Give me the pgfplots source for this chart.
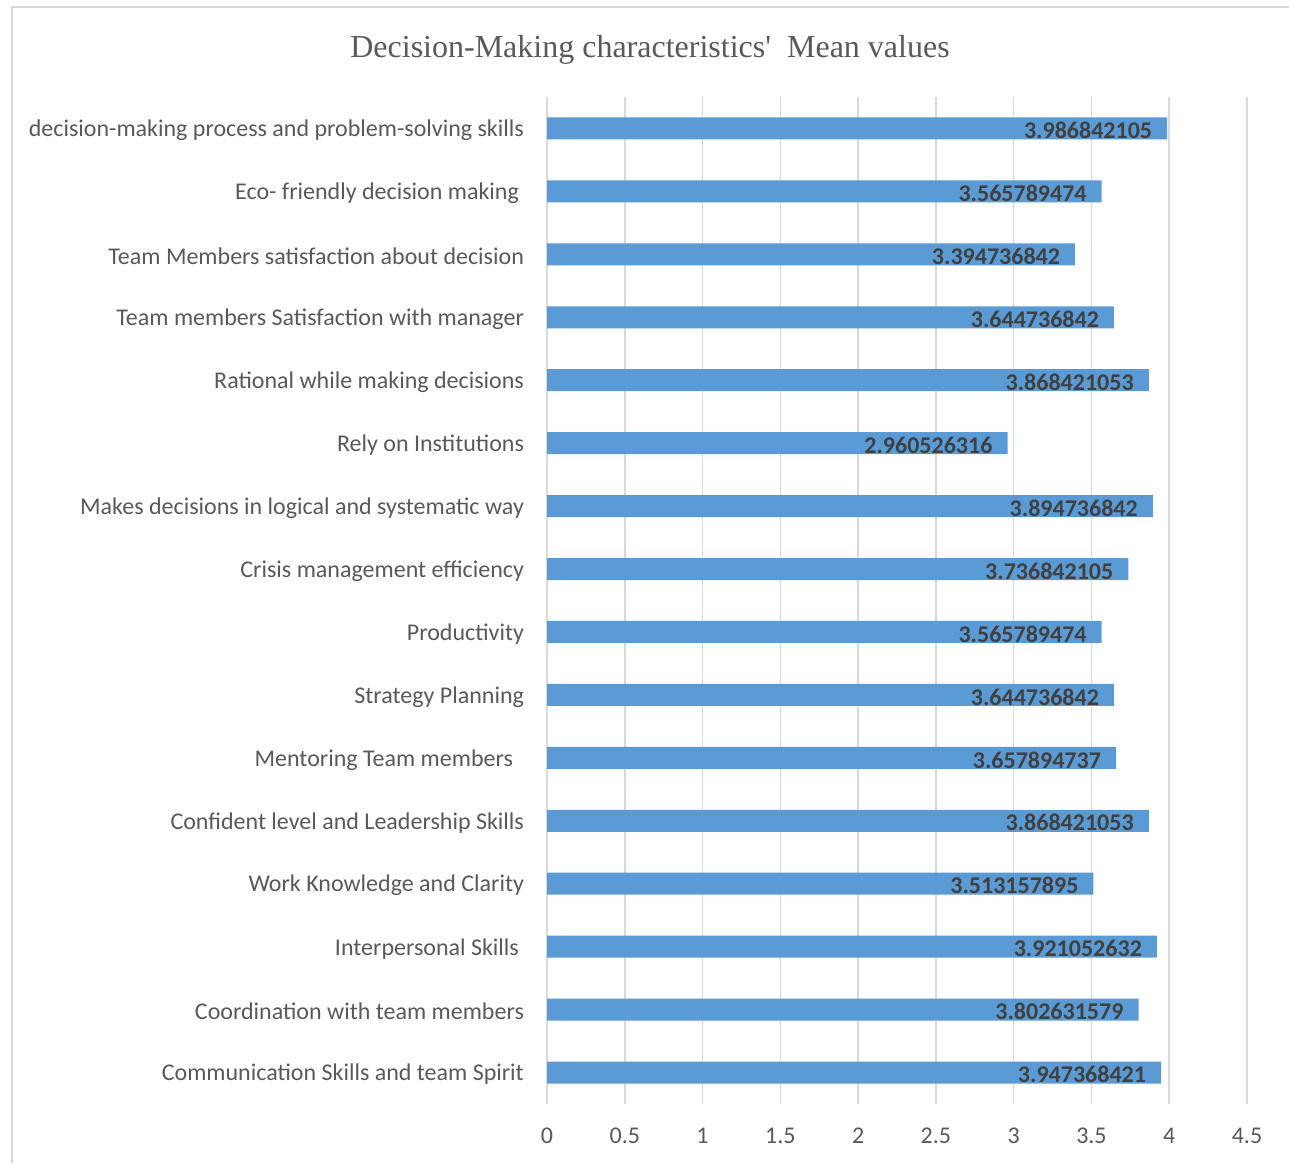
\documentclass[border=0pt]{standalone}
\usepackage{pgfplots}
\pgfplotsset{compat=1.18}
\usepackage{fontspec}
\setmainfont{Carlito}
\newfontfamily\titlefont[Ligatures=TeXOff]{Liberation Serif}
\definecolor{barblue}{HTML}{5B9BD5}
\definecolor{gridgray}{HTML}{D9D9D9}
\definecolor{labgray}{HTML}{595959}
\definecolor{valgray}{HTML}{404040}
\begin{document}
\begin{tikzpicture}[x=1pt,y=1pt]
\useasboundingbox (0,0) rectangle (644.5,581.5);
\draw[gridgray, line width=0.75pt] (6,0) -- (6,578) -- (650,578);
\node[font=\titlefont\fontsize{16}{19}\selectfont, text=labgray] at (325,556.5) {Decision-Making characteristics'\ \ Mean values};
\begin{axis}[
  at={(273.5pt,29.5pt)}, anchor=south west,
  scale only axis, width=350pt, height=503.5pt,
  xmin=0, xmax=4.5, ymin=-0.5, ymax=15.5,
  xbar, bar width=11pt,
  xtick={0,0.5,1,1.5,2,2.5,3,3.5,4,4.5},
  ytick={0,...,15},
  yticklabels={
    Communication Skills and team Spirit,
    Coordination with team members,
    Interpersonal Skills\hspace*{2.5pt},
    Work Knowledge and Clarity,
    Confident level and Leadership Skills,
    Mentoring Team members\hspace*{5.5pt},
    Strategy Planning,
    Productivity,
    Crisis management efficiency,
    Makes decisions in logical and systematic way,
    Rely on Institutions,
    Rational while making decisions,
    Team members Satisfaction with manager,
    Team Members satisfaction about decision,
    Eco- friendly decision making\hspace*{2.5pt},
    decision-making process and problem-solving skills},
  xmajorgrids, grid style={gridgray, line width=0.75pt},
  axis line style={draw=none}, major tick length=0pt,
  /pgf/number format/assume math mode=true,
  tick label style={font=\fontsize{12}{14}\selectfont, text=labgray},
  yticklabel style={xshift=-8pt, yshift=-1pt},
  xticklabel style={yshift=-8.5pt},
  nodes near coords, point meta=explicit symbolic,
  every node near coord/.append style={anchor=east, xshift=-4pt, yshift=-1pt, font=\bfseries\fontsize{12}{14}\selectfont, text=valgray},
]
\addplot[fill=barblue, draw=none] coordinates {
  (3.947368421,0) [3.947368421]
  (3.802631579,1) [3.802631579]
  (3.921052632,2) [3.921052632]
  (3.513157895,3) [3.513157895]
  (3.868421053,4) [3.868421053]
  (3.657894737,5) [3.657894737]
  (3.644736842,6) [3.644736842]
  (3.565789474,7) [3.565789474]
  (3.736842105,8) [3.736842105]
  (3.894736842,9) [3.894736842]
  (2.960526316,10) [2.960526316]
  (3.868421053,11) [3.868421053]
  (3.644736842,12) [3.644736842]
  (3.394736842,13) [3.394736842]
  (3.565789474,14) [3.565789474]
  (3.986842105,15) [3.986842105]
};
\end{axis}
\end{tikzpicture}
\end{document}
